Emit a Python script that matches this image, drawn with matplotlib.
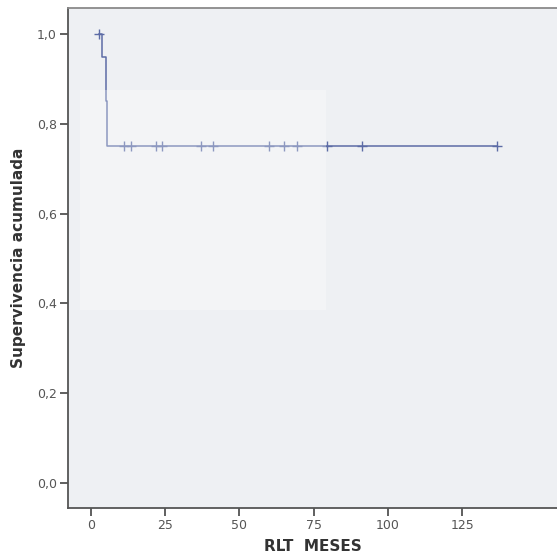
import numpy as np
import matplotlib.pyplot as plt
from matplotlib.patches import Rectangle

# Kaplan-Meier estimate
tiempos_evento = [2.9, 3.9, 5.0, 5.6]
supervivencia = [1.0, 0.95, 0.85, 0.75]
tiempo_final = 136.6

# censored observations
censura_t = [2.9, 11, 13.5, 22, 24, 37, 41, 60, 65, 69.5, 79.5, 91.4, 136.6]
censura_s = [1.0, 0.75, 0.75, 0.75, 0.75, 0.75, 0.75, 0.75, 0.75, 0.75, 0.75, 0.75, 0.75]

xticks = [0, 25, 50, 75, 100, 125]
yticks = [0.0, 0.2, 0.4, 0.6, 0.8, 1.0]

fig = plt.figure(figsize=(5.57, 5.58), dpi=100)
ax = fig.add_axes([0.122, 0.0896, 0.878, 0.896])
ax.set_facecolor('#eef0f3')

# curva escalonada
t = tiempos_evento + [tiempo_final]
s = supervivencia + [supervivencia[-1]]
ax.step(t, s, where='post', color='#5d6ca6', linewidth=1.1, zorder=3)
ax.plot(censura_t, censura_s, linestyle='none', marker='+', color='#5d6ca6',
        markersize=7, markeredgewidth=1.0, zorder=3)

# zona desvaida de la imagen original
ax.add_patch(Rectangle((-3.5, 0.385), 82.5, 0.49, facecolor='white', alpha=0.3,
                       edgecolor='none', zorder=4))

ax.set_xlim(-7.7, 156.9)
ax.set_ylim(-0.056, 1.058)
ax.set_xticks(xticks)
ax.set_xticklabels([str(v) for v in xticks])
ax.set_yticks(yticks)
ax.set_yticklabels([f"{v:.1f}".replace('.', ',') for v in yticks])

for side in ['left', 'bottom', 'top']:
    ax.spines[side].set_color('#555555')
    ax.spines[side].set_linewidth(1.3)
ax.spines['top'].set_color('#8a8a8a')
ax.spines['right'].set_visible(False)

ax.tick_params(axis='both', direction='out', length=6, width=1.2, color='#444444',
               labelsize=9, labelcolor='#555555', pad=2)

ax.set_xlabel('RLT  MESES', fontsize=11, fontweight='bold', color='#333333', labelpad=5)
ax.set_ylabel('Supervivencia acumulada', fontsize=11, fontweight='bold', color='#333333',
              labelpad=8)

plt.savefig('out.png', dpi=100)
